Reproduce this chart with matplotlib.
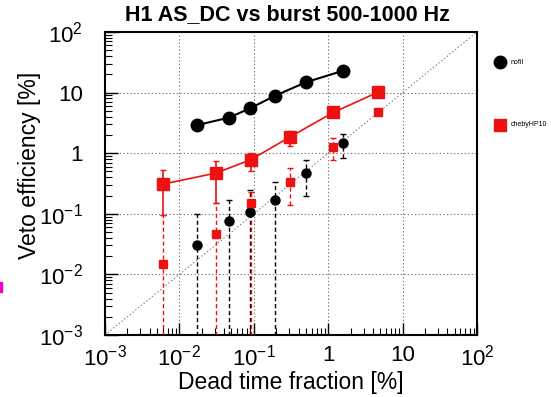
import matplotlib
matplotlib.use("Agg")
import matplotlib.pyplot as plt
import numpy as np
from matplotlib.ticker import LogLocator, FixedLocator, FixedFormatter, NullFormatter

plt.rcParams['font.family'] = ['Liberation Sans', 'DejaVu Sans']
plt.rcParams['mathtext.default'] = 'regular'

# ---- data ----
x_nofil = [0.017, 0.046, 0.089, 0.19, 0.50, 1.6]
y_nofil = [2.9, 3.85, 5.5, 8.8, 14.8, 23.0]
y_nofil_hi = [3.2, 4.2, 6.0, 9.5, 15.8, 24.5]
y_nofil_lo = [2.6, 3.5, 5.0, 8.1, 13.8, 21.5]

y_nofil_low = [0.030, 0.076, 0.106, 0.166, 0.47, 1.45]
y_nofil_low_hi = [0.10, 0.17, 0.25, 0.34, 0.77, 2.1]
y_nofil_low_lo = [1e-5, 1e-5, 1e-5, 1e-5, 0.20, 0.83]

x_cheby = [0.0061, 0.031, 0.091, 0.31, 1.17, 4.7]
y_cheby = [0.31, 0.47, 0.78, 1.87, 4.7, 10.2]
y_cheby_hi = [0.53, 0.74, 1.0, 2.3, 5.3, 11.2]
y_cheby_lo = [0.095, 0.15, 0.5, 1.3, 4.1, 9.3]

y_cheby_low = [0.015, 0.046, 0.15, 0.34, 1.28, 4.8]
y_cheby_low_hi = [0.095, 0.15, 0.23, 0.57, 1.8, 5.3]
y_cheby_low_lo = [1e-5, 1e-5, 1e-5, 0.14, 0.77, 4.4]

decades = [1e-3, 1e-2, 1e-1, 1, 10, 100]
x_tick_labels = ['$10^{-3}$', '$10^{-2}$', '$10^{-1}$', '1', '10', '$10^{2}$']
y_tick_labels = ['$10^{-3}$', '$10^{-2}$', '$10^{-1}$', '1', '10', '$10^{2}$']

title = 'H1 AS_DC vs burst 500-1000 Hz'
legend_labels = ['nofil', 'chebyHP10']

RED = '#ee1111'

fig = plt.figure(figsize=(5.51, 3.97), dpi=100)
ax = fig.add_axes([105/551, 1-335/397, (477-105)/551, (335-32)/397])
ax.set_xscale('log')
ax.set_yscale('log')
ax.set_xlim(1e-3, 1e2)
ax.set_ylim(1e-3, 1e2)

# grid and diagonal
for d in decades[1:-1]:
    ax.axvline(d, color='#777777', ls=(0, (1.2, 2)), lw=0.8, zorder=0)
    ax.axhline(d, color='#777777', ls=(0, (1.2, 2)), lw=0.8, zorder=0)
ax.plot([1e-3, 1e2], [1e-3, 1e2], color='#777777', ls=(0, (1.2, 2)), lw=0.8, zorder=0)

def asym(y, hi, lo):
    y = np.array(y); return [y - np.array(lo), np.array(hi) - y]

# lower points (dashed error bars)
eb = ax.errorbar(x_nofil, y_nofil_low, yerr=asym(y_nofil_low, y_nofil_low_hi, y_nofil_low_lo),
                 fmt='o', color='black', ms=6.5, elinewidth=1.0, capsize=2, capthick=1, zorder=3)
eb[2][0].set_linestyle((0, (3, 2)))
eb = ax.errorbar(x_cheby, y_cheby_low, yerr=asym(y_cheby_low, y_cheby_low_hi, y_cheby_low_lo),
                 fmt='s', color=RED, ms=5.5, elinewidth=1.0, capsize=2, capthick=1, zorder=3)
eb[2][0].set_linestyle((0, (3, 2)))

# upper lines
ax.errorbar(x_nofil, y_nofil, yerr=asym(y_nofil, y_nofil_hi, y_nofil_lo),
            fmt='-o', color='black', ms=9, lw=1.5, elinewidth=1.0, capsize=2, zorder=4)
ax.errorbar(x_cheby, y_cheby, yerr=asym(y_cheby, y_cheby_hi, y_cheby_lo),
            fmt='-s', color=RED, ms=9, lw=1.2, elinewidth=1.2, capsize=2, zorder=4)

# ticks
for axis in (ax.xaxis, ax.yaxis):
    axis.set_major_locator(FixedLocator(decades))
    axis.set_minor_locator(LogLocator(base=10, subs=np.arange(2, 10), numticks=20))
    axis.set_minor_formatter(NullFormatter())
ax.xaxis.set_major_formatter(FixedFormatter(x_tick_labels))
ax.yaxis.set_major_formatter(FixedFormatter(y_tick_labels))
ax.tick_params(which='both', direction='in', top=False, right=False, labelsize=16)
ax.tick_params(which='major', length=9, width=1.0)
ax.tick_params(which='minor', length=5, width=0.8)
ax.tick_params(axis='x', pad=7)
ax.tick_params(axis='y', pad=16)
for s in ax.spines.values():
    s.set_linewidth(1.5)

ax.set_xlabel('Dead time fraction [%]', fontsize=16.5, labelpad=0)
ax.set_ylabel('Veto efficiency [%]', fontsize=16.5)
ax.yaxis.set_label_coords(-0.172, 0.561)
fig.text(287/551, 1-15/397, title, ha='center', va='center', fontsize=15.5, fontweight='bold')

# legend outside on right
fig.lines.append(plt.Line2D([500/551], [1-62/397], marker='o', color='black', ms=9,
                            transform=fig.transFigure, ls='none'))
fig.text(511/551, 1-62/397, legend_labels[0], fontsize=5, va='center', ha='left')
fig.lines.append(plt.Line2D([500/551], [1-125/397], marker='s', color=RED, ms=8,
                            transform=fig.transFigure, ls='none'))
fig.text(511/551, 1-125/397, legend_labels[1], fontsize=5, va='center', ha='left')

# small magenta mark at left edge
fig.patches.append(plt.Rectangle((0, 1-292/397), 2/551, 10/397, color='#ee00cc',
                                 transform=fig.transFigure))

fig.savefig('out.png', dpi=100)
